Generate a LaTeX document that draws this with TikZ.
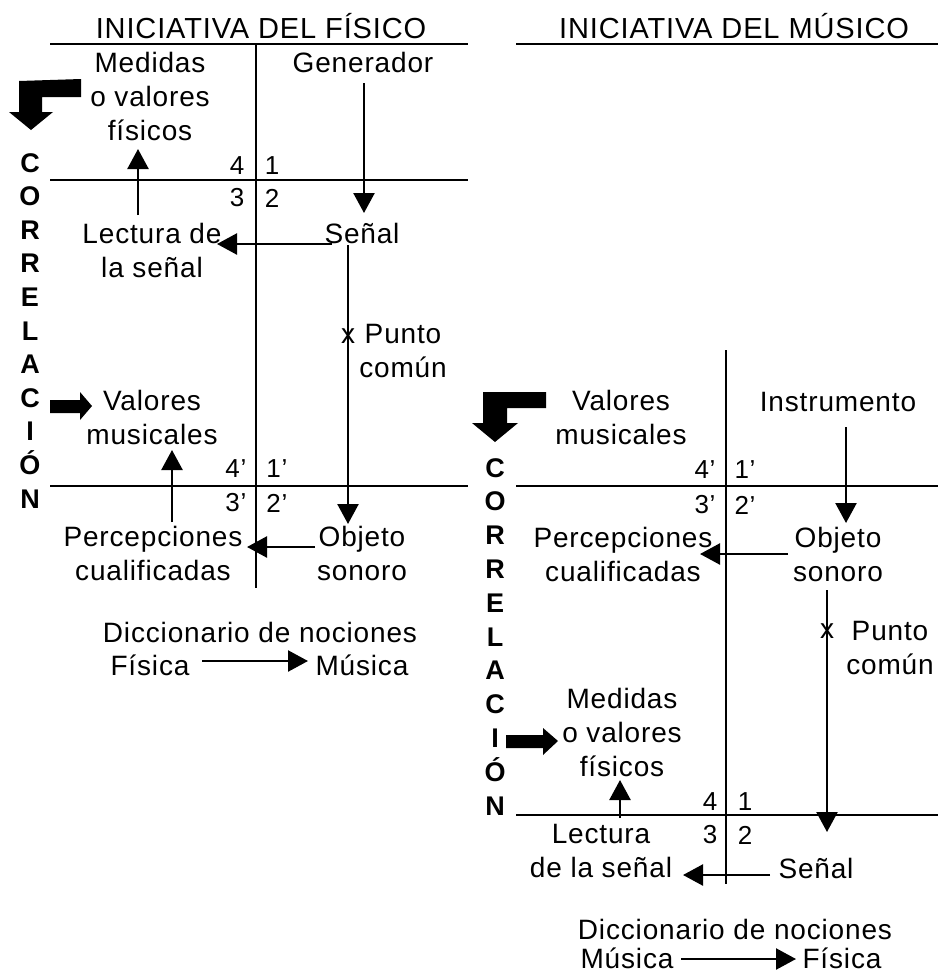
\documentclass[tikz,border=0pt]{standalone}
\usepackage{fontspec}
\setmainfont{Liberation Sans}[LetterSpace=3]
\usetikzlibrary{arrows.meta}
\begin{document}
\begin{tikzpicture}[x=1pt,y=-1pt,
  txt/.style={inner sep=0pt, align=center, font=\fontsize{28}{34}\selectfont},
  ttl/.style={inner sep=0pt, font=\fontsize{29}{34}\selectfont},
  num/.style={inner sep=0pt, font=\fontsize{26}{30}\selectfont},
  corr/.style={inner sep=0pt, anchor=base, font=\fontsize{27}{30}\selectfont\bfseries},
  arr/.style={line width=2.4pt, -{Triangle[length=20pt,width=21pt]}},
  hline/.style={line width=1.8pt},
  vline/.style={line width=2.4pt},
  blk/.style={fill=black, draw=none}]
\useasboundingbox (0,0) rectangle (938,977);

% ---------------- LEFT: INICIATIVA DEL FISICO ----------------
\node[ttl] (tF) at (261,26) {INICIATIVA DEL FÍSICO};
\draw[hline] (50,44) -- (468,44);
\draw[hline] (50,180) -- (468,180);
\draw[hline] (50,486) -- (468,486);
\draw[vline] (256,44) -- (256,588);

\node[txt] (medL) at (150,96) {Medidas\\o valores\\físicos};
\node[txt] (gen) at (363,62) {Generador};
\node[num] (q4) at (237,166) {4};
\node[num] (q1) at (272,166) {1};
\node[num] (q3) at (237,198) {3};
\node[num] (q2) at (272,198) {2};
\node[txt] (lectL) at (152,250) {Lectura de\\la señal};
\node[txt] (senL) at (362,233) {Señal};
\node[txt] (xL) at (348,336) {x};
\node[txt] (ptoL) at (403,351) {Punto\\común};
\node[txt] (valL) at (152,417) {Valores\\musicales};
\node[num] (q4p) at (236,469) {4’};
\node[num] (q1p) at (277,469) {1’};
\node[num] (q3p) at (236,503) {3’};
\node[num] (q2p) at (277,503) {2’};
\node[txt] (percL) at (153,553) {Percepciones\\cualificadas};
\node[txt] (objL) at (362,553) {Objeto\\sonoro};
\node[txt] (dicL) at (260,632) {Diccionario de nociones};
\node[txt] (fisL) at (150,665) {Física};
\node[txt] (musL) at (362,665) {Música};

\foreach \l [count=\i from 0] in {C,O,R,R,E,L,A,C,I,Ó,N}
  \node[corr] (cL\i) at (30,{172+33.6*\i}) {\l};

\coordinate (a1) at (364,83);  \coordinate (b1) at (364,213);
\coordinate (a2) at (332,244); \coordinate (b2) at (217,244);
\coordinate (a3) at (138,215); \coordinate (b3) at (138,149);
\coordinate (a4) at (348,245); \coordinate (b4) at (348,524);
\coordinate (a5) at (315,547); \coordinate (b5) at (247,547);
\coordinate (a6) at (172,522); \coordinate (b6) at (172,450);
\coordinate (a7) at (202,661); \coordinate (b7) at (308,661);
\draw[arr] (a1) -- (b1);
\draw[arr] (a2) -- (b2);
\draw[arr] (a3) -- (b3);
\draw[arr] (a4) -- (b4);
\draw[arr] (a5) -- (b5);
\draw[arr] (a6) -- (b6);
\draw[arr] (a7) -- (b7);

\fill[blk] (19,81) -- (81,79) -- (81,97) -- (42,97) -- (42,112) -- (53,112)
  -- (31,130) -- (9,112) -- (19,112) -- cycle;
\fill[blk] (50,400) -- (80,400) -- (80,392) -- (92,406) -- (80,420) -- (80,413)
  -- (50,413) -- cycle;

% ---------------- RIGHT: INICIATIVA DEL MUSICO ----------------
\node[ttl] (tM) at (734,26) {INICIATIVA DEL MÚSICO};
\draw[hline] (516,44) -- (938,44);
\draw[hline] (516,486) -- (938,486);
\draw[hline] (516,815) -- (938,815);
\draw[line width=1.6pt] (726,350) -- (726,884);

\node[txt] (valR) at (621,417) {Valores\\musicales};
\node[txt] (instr) at (838,402) {Instrumento};
\node[num] (r4p) at (705,470) {4’};
\node[num] (r1p) at (745,470) {1’};
\node[num] (r3p) at (705,505) {3’};
\node[num] (r2p) at (745,505) {2’};
\node[txt] (percR) at (623,554) {Percepciones\\cualificadas};
\node[txt] (objR) at (838,554) {Objeto\\sonoro};
\node[txt] (xR) at (827,631) {x};
\node[txt] (ptoR) at (890,648) {Punto\\común};
\node[txt] (medR) at (622,732) {Medidas\\o valores\\físicos};
\node[num] (r4) at (710,802) {4};
\node[num] (r1) at (745,802) {1};
\node[num] (r3) at (710,835) {3};
\node[num] (r2) at (745,835) {2};
\node[txt] (lectR) at (601,851) {Lectura\\de la señal};
\node[txt] (senR) at (816,868) {Señal};
\node[txt] (dicR) at (735,929) {Diccionario de nociones};
\node[txt] (musR) at (627,958) {Música};
\node[txt] (fisR) at (842,958) {Física};

\foreach \l [count=\i from 0] in {C,O,R,R,E,L,A,C,I,Ó,N}
  \node[corr] (cR\i) at (495,{477+33.8*\i}) {\l};

\coordinate (c1) at (846,427); \coordinate (d1) at (846,523);
\coordinate (c2) at (788,554); \coordinate (d2) at (700,554);
\coordinate (c3) at (827,590); \coordinate (d3) at (827,832);
\coordinate (c4) at (770,875); \coordinate (d4) at (683,875);
\coordinate (c5) at (620,818); \coordinate (d5) at (620,780);
\coordinate (c6) at (681,959); \coordinate (d6) at (796,959);
\draw[arr] (c1) -- (d1);
\draw[arr] (c2) -- (d2);
\draw[arr] (c3) -- (d3);
\draw[arr] (c4) -- (d4);
\draw[arr] (c5) -- (d5);
\draw[arr] (c6) -- (d6);

\fill[blk] (483,392) -- (546,392) -- (546,408) -- (507,408) -- (507,423) -- (518,423)
  -- (495,442) -- (472,423) -- (483,423) -- cycle;
\fill[blk] (506,735) -- (543,735) -- (543,728) -- (558,741) -- (543,755) -- (543,748)
  -- (506,748) -- cycle;
\end{tikzpicture}
\end{document}
